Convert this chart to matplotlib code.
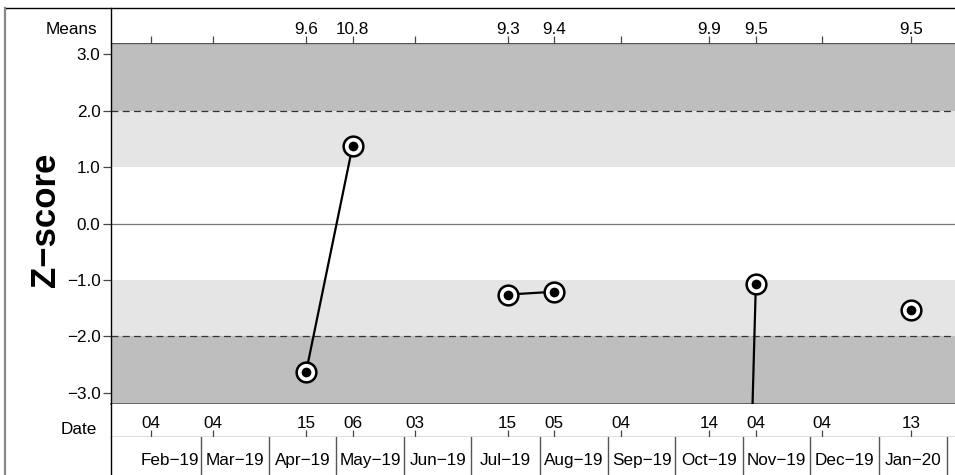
import numpy as np
import matplotlib
matplotlib.use("Agg")
import matplotlib.pyplot as plt
import matplotlib.dates as mdates
from matplotlib.lines import Line2D
import datetime as dt

plt.rcParams['font.family'] = ['Liberation Sans', 'DejaVu Sans']

# ---------------- data ----------------
session_dates = ['2019-02-04', '2019-03-04', '2019-04-15', '2019-05-06', '2019-06-03',
                 '2019-07-15', '2019-08-05', '2019-09-04', '2019-10-14', '2019-11-04',
                 '2019-12-04', '2020-01-13']
date_labels = ['04', '04', '15', '06', '03', '15', '05', '04', '14', '04', '04', '13']
means = [None, None, 9.6, 10.8, None, 9.3, 9.4, None, 9.9, 9.5, None, 9.5]
zscores = [np.nan, np.nan, -2.64, 1.37, np.nan, -1.26, -1.21, np.nan, -31.0, -1.08, np.nan, -1.54]
month_starts = ['2019-02-01', '2019-03-01', '2019-04-01', '2019-05-01', '2019-06-01',
                '2019-07-01', '2019-08-01', '2019-09-01', '2019-10-01', '2019-11-01',
                '2019-12-01', '2020-01-01', '2020-02-01']
month_labels = ['Feb\u221219', 'Mar\u221219', 'Apr\u221219', 'May\u221219', 'Jun\u221219',
                'Jul\u221219', 'Aug\u221219', 'Sep\u221219', 'Oct\u221219', 'Nov\u221219',
                'Dec\u221219', 'Jan\u221220']
y_ticks = [3.0, 2.0, 1.0, 0.0, -1.0, -2.0, -3.0]

# ---------------- style ----------------
W, H = 955, 475
DARK = '#bebebe'
LIGHT = '#e5e5e5'
FS = 12.3
MONTH_SHIFT = -2.6  # days, visual offset of month cells
X_LEFT = dt.datetime(2019, 1, 17, 0)
X_RIGHT = dt.datetime(2020, 2, 1, 21)

def d2n(s):
    return mdates.date2num(dt.datetime.strptime(s, '%Y-%m-%d'))

xs = np.array([d2n(s) for s in session_dates])
ms_x = np.array([d2n(s) for s in month_starts]) + MONTH_SHIFT
xl = (mdates.date2num(X_LEFT), mdates.date2num(X_RIGHT))

fig = plt.figure(figsize=(W / 100, H / 100), dpi=100)

def rect(x0, y0, x1, y1):
    return [x0 / W, 1 - y1 / H, (x1 - x0) / W, (y1 - y0) / H]

# main panel
ax = fig.add_axes(rect(111, 43, 955, 404))
ax.set_xlim(*xl)
ax.set_ylim(-3.2, 3.2)
ax.axhspan(2, 100, color=DARK, lw=0, zorder=0)
ax.axhspan(-100, -2, color=DARK, lw=0, zorder=0)
ax.axhspan(1, 2, color=LIGHT, lw=0, zorder=0)
ax.axhspan(-2, -1, color=LIGHT, lw=0, zorder=0)
ax.axhline(0, color='#777777', lw=0.9, zorder=1)
for yv in (2, -2):
    ax.axhline(yv, color='#333333', lw=0.9, dashes=(5.5, 3.5), zorder=1)
ax.plot(xs, zscores, color='black', lw=1.6, zorder=3)
ax.plot(xs, zscores, 'o', ms=14.2, mfc='white', mec='black', mew=1.8, zorder=4)
ax.plot(xs, zscores, 'o', ms=7, mfc='black', mec='black', mew=0, zorder=5)
ax.set_xticks([])
ax.set_yticks(y_ticks)
ax.set_yticklabels(['%.1f' % v if v >= 0 else '\u2212%.1f' % abs(v) for v in y_ticks], fontsize=FS)
ax.tick_params(axis='y', length=6, width=0.9, color='#444444', pad=1.5)
ax.spines['right'].set_visible(False)
ax.spines['left'].set_visible(False)
ax.spines['top'].set_color('#555555')
ax.spines['bottom'].set_color('#555555')
ax.spines['top'].set_linewidth(1.0)
ax.spines['bottom'].set_linewidth(1.2)

# means row
axm = fig.add_axes(rect(111, 8, 955, 43))
axm.set_xlim(*xl)
axm.set_ylim(0, 1)
for s in axm.spines.values():
    s.set_visible(False)
axm.set_yticks([])
axm.set_xticks(xs)
axm.set_xticklabels([])
axm.tick_params(axis='x', direction='in', length=5, width=0.9, color='#444444')
for x, m in zip(xs, means):
    if m is not None:
        axm.text(x, 0.4, '%.1f' % m, ha='center', va='center', fontsize=FS)

# date row
axd = fig.add_axes(rect(111, 404, 955, 437))
axd.set_xlim(*xl)
axd.set_ylim(0, 1)
for k, s in axd.spines.items():
    s.set_visible(k == 'bottom')
axd.spines['bottom'].set_color('#555555')
axd.spines['bottom'].set_linewidth(1.0)
axd.set_yticks([])
axd.set_xticks(xs)
axd.set_xticklabels([])
axd.tick_params(axis='x', direction='in', length=5, width=0.9, color='#444444')
for x, lab in zip(xs, date_labels):
    axd.text(x, 0.42, lab, ha='center', va='center', fontsize=FS)

# month row
axo = fig.add_axes(rect(111, 437, 955, 475))
axo.set_xlim(*xl)
axo.set_ylim(0, 1)
for s in axo.spines.values():
    s.set_visible(False)
axo.set_xticks([])
axo.set_yticks([])
for x in ms_x[1:]:
    axo.axvline(x, color='#555555', lw=1.0)
for i, lab in enumerate(month_labels):
    axo.text((ms_x[i] + ms_x[i + 1]) / 2, 0.38, lab, ha='center', va='center', fontsize=FS)

# frame lines
fig.add_artist(Line2D([5 / W, 1], [1 - 8 / H, 1 - 8 / H], color='black', lw=1.0))
fig.add_artist(Line2D([5 / W, 5 / W], [0, 1 - 8 / H], color='#888888', lw=1.6))
fig.add_artist(Line2D([111 / W, 111 / W], [0, 1 - 8 / H], color='black', lw=1.0))

# row labels
fig.text(97 / W, 1 - 29 / H, 'Means', ha='right', va='center', fontsize=FS)
fig.text(97 / W, 1 - 429 / H, 'Date', ha='right', va='center', fontsize=FS)
fig.text(46 / W, 1 - 220 / H, 'Z\u2212score', ha='center', va='center', rotation=90,
         fontsize=25, fontweight='bold')

fig.savefig('out.png', dpi=100)
